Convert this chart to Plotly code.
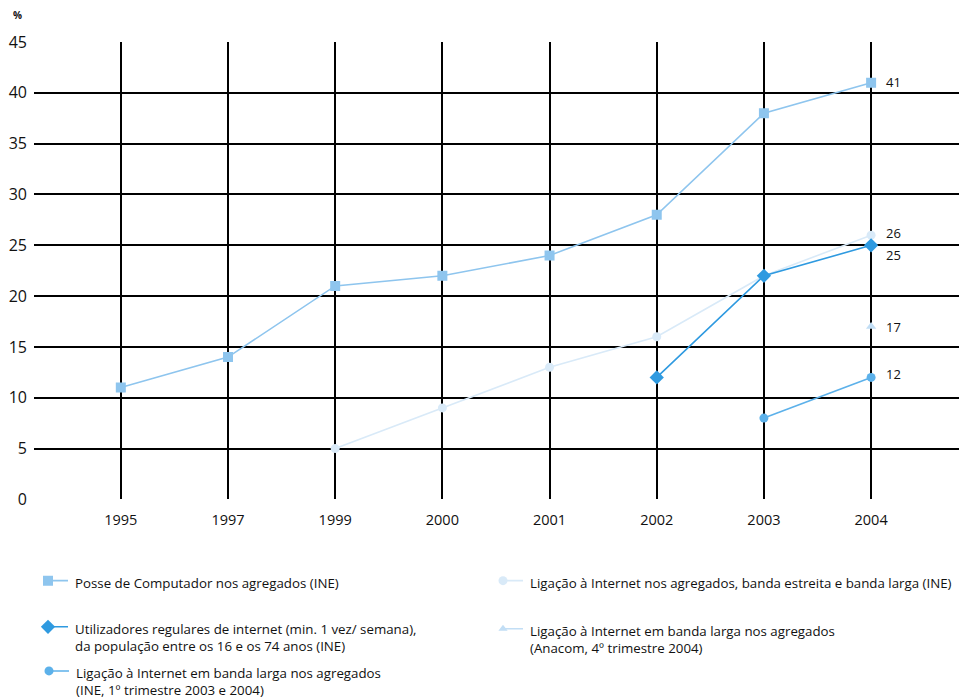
import plotly.graph_objects as go

# Categories (years) and series values, in %
years = ["1995", "1997", "1999", "2000", "2001", "2002", "2003", "2004"]

computador_years = ["1995", "1997", "1999", "2000", "2001", "2002", "2003", "2004"]
computador = [11, 14, 21, 22, 24, 28, 38, 41]

ligacao_years = ["1999", "2000", "2001", "2002", "2003", "2004"]
ligacao = [5, 9, 13, 16, 22, 26]

utilizadores_years = ["2002", "2003", "2004"]
utilizadores = [12, 22, 25]

banda_ine_years = ["2003", "2004"]
banda_ine = [8, 12]

banda_anacom_years = ["2004"]
banda_anacom = [17]

y_ticks = [0, 5, 10, 15, 20, 25, 30, 35, 40, 45]

names = [
    "Posse de Computador nos agregados (INE)",
    "Utilizadores regulares de internet (min. 1 vez/ semana),<br>da população entre os 16 e os 74 anos (INE)",
    "Ligação à Internet em banda larga nos agregados<br>(INE, 1º trimestre 2003 e 2004)",
    "Ligação à Internet nos agregados, banda estreita e banda larga (INE)",
    "Ligação à Internet em banda larga nos agregados<br>(Anacom, 4º trimestre 2004)",
]

C_COMP = "#8ec5ee"
C_LIG = "#d9eaf8"
C_UTIL = "#2f9ae0"
C_BINE = "#5cb1ea"
C_BANA = "#c2def5"

FONT = "Open Sans"
TXT = "#111111"
W, H = 959, 700
ML, MT = 34, 42
H_EFF = 687.0          # usable paper bottom in pixels
PLOT_BOTTOM = 498
paper_h = H_EFF - MT
main_bottom = (H_EFF - PLOT_BOTTOM) / paper_h
leg_top = 0.2

fig = go.Figure()

series = [
    (ligacao_years, ligacao, C_LIG, "circle", 9),
    (computador_years, computador, C_COMP, "square", 10),
    (utilizadores_years, utilizadores, C_UTIL, "diamond", 11),
    (banda_ine_years, banda_ine, C_BINE, "circle", 9),
    (banda_anacom_years, banda_anacom, C_BANA, "triangle-up", 9),
]
for xs, ys, col, sym, sz in series:
    fig.add_trace(go.Scatter(
        x=xs, y=ys, mode="lines+markers",
        line=dict(color=col, width=1.6),
        marker=dict(symbol=sym, size=sz, color=col),
        showlegend=False, hoverinfo="skip",
        xaxis="x", yaxis="y",
    ))

# End-of-series value labels next to the last year
last_idx = len(years) - 1
end_labels = [
    (computador[-1], 1),
    (ligacao[-1], 2),
    (utilizadores[-1], -10),
    (banda_anacom[-1], 0),
    (banda_ine[-1], 3),
]
for val, dy in end_labels:
    fig.add_annotation(
        x=last_idx, y=val, xref="x", yref="y", text=str(val),
        showarrow=False, xanchor="left", yanchor="middle",
        xshift=13, yshift=dy,
        font=dict(family=FONT, size=13, color=TXT),
    )

# Legend samples drawn on a pixel-scaled helper axis below the chart
leg_items = [
    (48, 579, C_COMP, "square", 10, 0),
    (48, 625, C_UTIL, "diamond", 11, 1),
    (49, 669, C_BINE, "circle", 9, 2),
    (503, 579, C_LIG, "circle", 9, 3),
    (503, 627, C_BANA, "triangle-up", 8, 4),
]
for px, py, col, sym, sz, idx in leg_items:
    fig.add_trace(go.Scatter(
        x=[px, px + 20], y=[py, py], mode="lines",
        line=dict(color=col, width=1.6),
        showlegend=False, hoverinfo="skip", xaxis="x2", yaxis="y2",
    ))
    fig.add_trace(go.Scatter(
        x=[px], y=[py], mode="markers",
        marker=dict(symbol=sym, size=sz, color=col),
        showlegend=False, hoverinfo="skip", xaxis="x2", yaxis="y2",
    ))
    fig.add_annotation(
        x=px + 25, y=py - 9, xref="x2", yref="y2", text=names[idx],
        showarrow=False, xanchor="left", yanchor="top", align="left",
        font=dict(family=FONT, size=13.3, color=TXT),
    )

fig.add_annotation(
    x=-0.025, y=1.0, xref="paper", yref="paper", yshift=27, text="<b>%</b>",
    showarrow=False, xanchor="left", yanchor="middle",
    font=dict(family=FONT, size=10, color=TXT),
)

fig.update_layout(
    width=W, height=H,
    margin=dict(l=ML, r=0, t=MT, b=0, pad=0),
    paper_bgcolor="white", plot_bgcolor="white",
    font=dict(family=FONT, size=13, color=TXT),
    xaxis=dict(
        type="category", categoryorder="array", categoryarray=years,
        range=[-0.81, 7.82], showgrid=True, gridcolor="black", gridwidth=1.5,
        zeroline=False, showline=False, ticks="", ticklabelstandoff=10,
        tickfont=dict(family=FONT, size=14.5, color=TXT), anchor="y",
    ),
    yaxis=dict(
        domain=[main_bottom, 1], range=[0, 45], tickvals=y_ticks,
        showgrid=True, gridcolor="black", gridwidth=1.5,
        zeroline=False, showline=False, ticks="", ticklabelstandoff=6,
        tickfont=dict(family=FONT, size=16, color=TXT), anchor="x",
    ),
    xaxis2=dict(domain=[0, 1], range=[ML, W], visible=False, anchor="y2"),
    yaxis2=dict(domain=[0, leg_top], range=[H_EFF, H_EFF - leg_top * paper_h],
                visible=False, anchor="x2"),
)

fig.write_html("out.html")
